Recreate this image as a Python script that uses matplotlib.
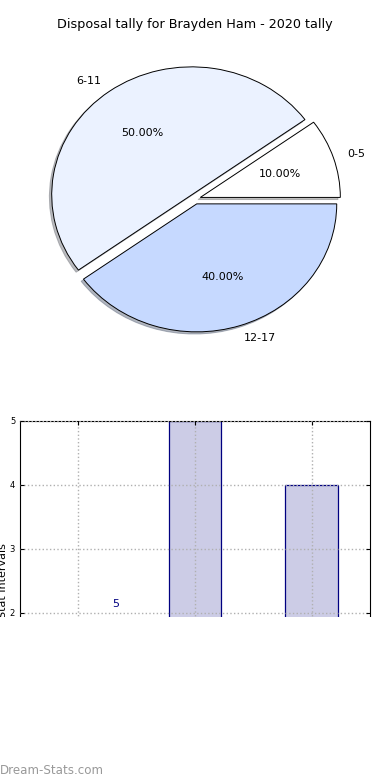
import matplotlib.pyplot as plt
from matplotlib.patches import Rectangle

# pie data
pie_labels = ['0-5', '6-11', '12-17']
pie_counts = [1, 5, 4]
pie_colors = ['#FFFFFF', '#EBF2FF', '#C6D9FF']

# bar data
bar_pos = [0, 1, 2]
bar_vals = [1, 5, 4]
note_x = 0.32
note_y = 2.14
note_text = '5'

fig = plt.figure(figsize=(3.9, 7.8), dpi=100)

ax1 = fig.add_axes([20 / 390, 1 - 359 / 780, 350 / 390, 320 / 780])
ax1.pie(pie_counts, labels=pie_labels, colors=pie_colors, explode=[0.04] * 3,
        autopct='%1.2f%%', shadow={'ox': -0.012, 'oy': -0.012, 'shade': 0.5},
        startangle=0,
        wedgeprops={'edgecolor': 'black', 'linewidth': 0.7},
        textprops={'fontsize': 8})
ax1.set_aspect('auto')
ax1.set_xlim(-1.25, 1.25)
ax1.set_ylim(-1.25, 1.25)
ax1.set_title('Disposal tally for Brayden Ham - 2020 tally', fontsize=9.2, pad=8)

ax2 = fig.add_axes([20 / 390, 1 - 741 / 780, 350 / 390, 320 / 780])
ax2.bar(bar_pos, bar_vals, width=0.45, color='#CCCCE6', edgecolor='#000080', linewidth=0.9)
ax2.set_xlim(-0.5, 2.5)
ax2.set_ylim(0, 5)
ax2.set_xticks(bar_pos)
ax2.set_xticklabels([])
ax2.set_yticks([0, 1, 2, 3, 4, 5])
ax2.tick_params(axis='both', direction='in', top=True, right=True, labelsize=6, length=3)
ax2.grid(True, linestyle=':', color='#B0B0B0', linewidth=1)
ax2.set_axisbelow(False)
ax2.set_ylabel('Stat Intervals', fontsize=8, labelpad=1)
ax2.text(note_x, note_y, note_text, color='#000080', fontsize=8, ha='center', va='center')

# white cover over the lower part of the bar chart
fig.patches.append(Rectangle((0, 0), 1, 1 - 617 / 780, transform=fig.transFigure,
                             facecolor='white', edgecolor='none', zorder=10))
fig.text(0.0, 1 - 771 / 780, 'Dream-Stats.com', fontsize=8.6, color='#999999',
         ha='left', va='center', zorder=11)

fig.savefig('out.png', dpi=100)
